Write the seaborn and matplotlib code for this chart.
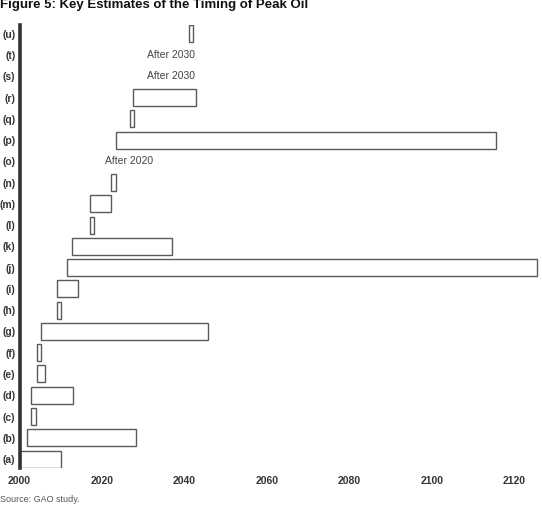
import matplotlib
matplotlib.use("Agg")
import matplotlib.pyplot as plt
import seaborn as sns
import pandas as pd

# estimates of the year of peak oil, rows from top (u) to bottom (a)
labels = ['(u)', '(t)', '(s)', '(r)', '(q)', '(p)', '(o)', '(n)', '(m)', '(l)', '(k)',
          '(j)', '(i)', '(h)', '(g)', '(f)', '(e)', '(d)', '(c)', '(b)', '(a)']
start = [2041, None, None, 2027.5, 2026.8, 2023.3, None, 2022.2, 2017.1, 2017.1, 2012.7,
         2011.4, 2009.1, 2009.1, 2005.1, 2004.2, 2004.2, 2002.9, 2002.9, 2001.9, 2000.1]
end = [2042, None, None, 2042.8, 2027.8, 2115.5, None, 2023.3, 2022.2, 2018.1, 2037.0,
       2125.5, 2014.2, 2010.1, 2045.7, 2005.3, 2006.3, 2013.0, 2003.9, 2028.2, 2010.1]
open_ended = {'(t)': 'After 2030', '(s)': 'After 2030', '(o)': 'After 2020'}
text_x = {'(t)': 2030.9, '(s)': 2030.9, '(o)': 2020.7}
xticks = [2000, 2020, 2040, 2060, 2080, 2100, 2120]

df = pd.DataFrame({'label': labels, 'start': start, 'end': end})
df['span'] = df['end'] - df['start']
bars = df.dropna().reset_index(drop=True)

sns.set_style("white")
plt.rcParams['font.family'] = ['Liberation Sans', 'DejaVu Sans']

fig = plt.figure(figsize=(5.42, 5.07), dpi=100)
ax = fig.add_axes([0.036, 0.077, 0.964, 0.874])

sns.barplot(data=bars, x='span', y='label', order=labels, color='white',
            edgecolor='#5a5a5a', linewidth=1.0, width=0.8, ax=ax)

# move each bar so it starts at its first year
for patch in ax.patches:
    row = round(patch.get_y() + patch.get_height() / 2)
    patch.set_x(df['start'][row])

for lab, txt in open_ended.items():
    ax.text(text_x[lab], labels.index(lab), txt, ha='left', va='center',
            fontsize=7.5, color='#444444')

ax.set_xlim(2000, 2126.7)
ax.set_ylim(20.42, -0.42)
ax.set_xticks(xticks)
ax.set_xticklabels([str(t) for t in xticks], fontweight='bold', fontsize=7.5, color='#333333')
ax.set_yticks(range(len(labels)))
ax.set_yticklabels(labels, fontweight='bold', fontsize=7.5, color='#333333')
ax.tick_params(axis='both', length=0, pad=3)
ax.tick_params(axis='x', pad=6)
ax.set_xlabel('')
ax.set_ylabel('')

for side in ['top', 'right', 'bottom']:
    ax.spines[side].set_visible(False)
ax.spines['left'].set_linewidth(2.6)
ax.spines['left'].set_color('#333333')

fig.text(0.0, 1 - 8 / 507, 'Figure 5: Key Estimates of the Timing of Peak Oil',
         fontsize=9.5, fontweight='bold', color='#111111', ha='left', va='baseline')
fig.text(0.0, 1 - 500 / 507, 'Source: GAO study.', fontsize=6.5, color='#555555',
         ha='left', va='center')

fig.savefig('out.png', dpi=100)
